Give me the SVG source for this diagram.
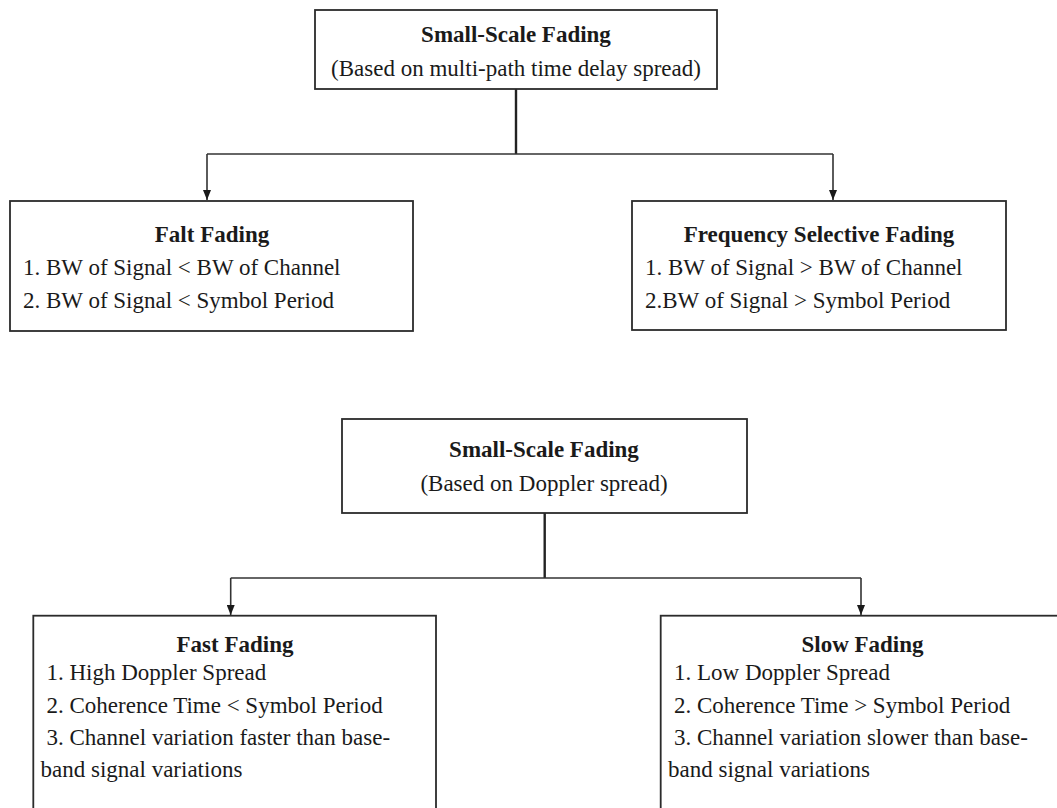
<svg xmlns="http://www.w3.org/2000/svg" width="1057" height="808" viewBox="0 0 1057 808">
  <style>
    text { font-family: "Liberation Serif", "Times New Roman", Times, "DejaVu Serif", serif; font-size: 23px; fill: #1a1a1a; }
    .box { fill: #ffffff; stroke: #2b2b2b; stroke-width: 1.8; }
    .title { font-weight: bold; text-anchor: middle; }
    .sub { text-anchor: middle; }
    .wire { fill: none; stroke: #333333; stroke-width: 1.6; }
    .stem { fill: none; stroke: #222222; stroke-width: 2.4; }
  </style>
  <defs>
    <!-- arrowhead drawn along +x so orient="auto" follows the line -->
    <marker id="arrow" markerWidth="10" markerHeight="8" refX="10" refY="4" orient="auto" markerUnits="userSpaceOnUse" viewBox="0 0 10 8">
      <path d="M0,0 L10,4 L0,8 Z" fill="#1a1a1a"/>
    </marker>
  </defs>
  <rect width="1057" height="808" fill="#ffffff"/>

  <!-- connectors -->
  <g id="connectors">
    <path class="stem" d="M516,89 V154"/>
    <path class="wire" d="M207,154 H833"/>
    <path class="wire" d="M207,154 V200" marker-end="url(#arrow)"/>
    <path class="wire" d="M833,154 V200" marker-end="url(#arrow)"/>

    <path class="stem" d="M544.7,513 V578"/>
    <path class="wire" d="M230.7,578 H861"/>
    <path class="wire" d="M230.7,578 V615" marker-end="url(#arrow)"/>
    <path class="wire" d="M861,578 V615" marker-end="url(#arrow)"/>
  </g>

  <!-- delay-spread classification -->
  <g id="node-delay-spread">
    <rect class="box" x="315" y="10" width="402" height="79"/>
    <text class="title" x="516" y="42">Small-Scale Fading</text>
    <text class="sub" x="516" y="76">(Based on multi-path time delay spread)</text>
  </g>

  <g id="node-flat-fading">
    <rect class="box" x="10" y="201" width="403" height="130"/>
    <text class="title" x="212" y="242">Falt Fading</text>
    <text x="23" y="275">1. BW of Signal &lt; BW of Channel</text>
    <text x="23" y="308">2. BW of Signal &lt; Symbol Period</text>
  </g>

  <g id="node-frequency-selective">
    <rect class="box" x="632" y="201" width="374" height="129"/>
    <text class="title" x="819" y="242">Frequency Selective Fading</text>
    <text x="645" y="275">1. BW of Signal &gt; BW of Channel</text>
    <text x="645" y="308">2.BW of Signal &gt; Symbol Period</text>
  </g>

  <!-- Doppler-spread classification -->
  <g id="node-doppler-spread">
    <rect class="box" x="342" y="419" width="405" height="94"/>
    <text class="title" x="544" y="457">Small-Scale Fading</text>
    <text class="sub" x="544" y="491">(Based on Doppler spread)</text>
  </g>

  <g id="node-fast-fading">
    <rect class="box" x="33.3" y="615.7" width="402.7" height="220"/>
    <text class="title" x="235" y="652">Fast Fading</text>
    <text x="46.5" y="680">1. High Doppler Spread</text>
    <text x="46.5" y="713">2. Coherence Time &lt; Symbol Period</text>
    <text x="46.5" y="745">3. Channel variation faster than base-</text>
    <text x="40.5" y="777">band signal variations</text>
  </g>

  <g id="node-slow-fading">
    <rect class="box" x="660.7" y="615.7" width="420" height="220"/>
    <text class="title" x="862.5" y="652">Slow Fading</text>
    <text x="674" y="680">1. Low Doppler Spread</text>
    <text x="674" y="713">2. Coherence Time &gt; Symbol Period</text>
    <text x="674" y="745">3. Channel variation slower than base-</text>
    <text x="668" y="777">band signal variations</text>
  </g>
</svg>
